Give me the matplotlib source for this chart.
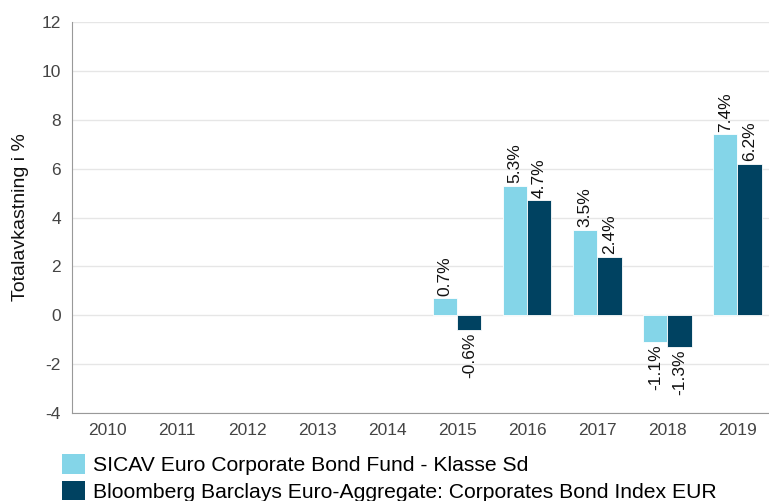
import numpy as np
import matplotlib.pyplot as plt
from matplotlib.patches import Patch

plt.rcParams['font.family'] = ['Liberation Sans', 'DejaVu Sans']
plt.rcParams['axes.unicode_minus'] = False

years = ["2010", "2011", "2012", "2013", "2014", "2015", "2016", "2017", "2018", "2019"]
fund = [None, None, None, None, None, 0.7, 5.3, 3.5, -1.1, 7.4]
index = [None, None, None, None, None, -0.6, 4.7, 2.4, -1.3, 6.2]
fund_name = "SICAV Euro Corporate Bond Fund - Klasse Sd"
index_name = "Bloomberg Barclays Euro-Aggregate: Corporates Bond Index EUR"

light = "#84d5e8"
dark = "#004261"

fig = plt.figure(figsize=(7.69, 5.01), dpi=100)
ax = fig.add_axes([0.0936, 0.1756, 0.9064, 0.7805])

x = np.arange(len(years))
w = 0.345


def draw(vals, offset, color):
    for xi, v in zip(x, vals):
        if v is None:
            continue
        ax.bar(xi + offset, v, width=w, color=color, edgecolor="white", linewidth=0.6, zorder=3)
        if v >= 0:
            ax.text(xi + offset, v + 0.1, f"{v:.1f}%", rotation=90, ha="center", va="bottom",
                    fontsize=12.5, color="#111111")
        else:
            ax.text(xi + offset, v - 0.1, f"{v:.1f}%", rotation=90, ha="center", va="top",
                    fontsize=12.5, color="#111111")


draw(fund, -w / 2, light)
draw(index, w / 2, dark)

ax.set_xlim(-0.5, 9.45)
ax.set_ylim(-4, 12)
ax.set_yticks(range(-4, 13, 2))
ax.set_xticks(x)
ax.set_xticklabels(years)
ax.tick_params(axis="both", length=0, labelsize=12.5, labelcolor="#444444")
ax.tick_params(axis="y", pad=8)
ax.tick_params(axis="x", pad=7)
ax.grid(axis="y", color="#e6e6e6", linewidth=1, zorder=0)
ax.set_axisbelow(True)
for s in ["top", "right"]:
    ax.spines[s].set_visible(False)
ax.spines["left"].set_color("#999999")
ax.spines["bottom"].set_color("#999999")
ax.set_ylabel("Totalavkastning i %", fontsize=14, color="#111111", labelpad=9)

handles = [Patch(facecolor=light, edgecolor="none", label=fund_name),
           Patch(facecolor=dark, edgecolor="none", label=index_name)]
fig.legend(handles=handles, loc="lower left", bbox_to_anchor=(0.062, -0.031), frameon=False,
           fontsize=15.2, handlelength=1.05, handleheight=1.05, handletextpad=0.4,
           labelspacing=0.25, borderpad=0.2)

fig.savefig("out.png", dpi=100)
